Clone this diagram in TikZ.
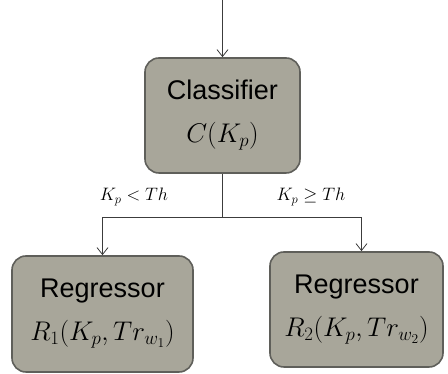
\RequirePackage{fix-cm}
\documentclass[tikz,border=0pt]{standalone}
\usepackage{amssymb}
\usepackage{fontspec}
\setmainfont{Liberation Sans}
\usetikzlibrary{arrows.meta,calc}
\definecolor{boxfill}{RGB}{168,166,154}
\definecolor{boxdraw}{RGB}{95,95,90}
\definecolor{linecol}{RGB}{60,60,60}
\newcommand{\mline}[1]{{\fontsize{27}{43}\selectfont $#1$}}
\tikzset{
  block/.style={draw=boxdraw, line width=1.6pt, fill=boxfill, rounded corners=14pt,
    align=center, inner sep=0pt, font=\fontsize{27}{43}\selectfont},
  conn/.style={draw=linecol, line width=0.8pt, -{Straight Barb[length=7pt,width=11pt,line width=0.8pt]}},
  lbl/.style={font=\fontsize{18}{20}\selectfont, inner sep=0pt}
}
\begin{document}
\begin{tikzpicture}[x=1pt,y=1pt]
\useasboundingbox (0,0) rectangle (448,374);
\node[block, minimum width=155pt, minimum height=115pt] (cls) at (222.5,258.5)
  {Classifier\\\mline{C\bigl(K_p\bigr)}};
\node[block, minimum width=181pt, minimum height=116pt] (r1) at (102.5,60)
  {Regressor\\\mline{R_1(K_p,Tr_{w_1})}};
\node[block, minimum width=173pt, minimum height=115pt] (r2) at (356.5,64.5)
  {Regressor\\\mline{R_2\bigl(K_p,Tr_{w_2}\bigr)}};
\coordinate (top) at (222.5,374);
\coordinate (junc) at (222.5,157);
\draw[conn] (top) -- (cls.north);
\draw[draw=linecol, line width=0.8pt] (cls.south) -- (junc);
\draw[conn] (junc) -| (r1.north);
\draw[conn] (junc) -| ([xshift=5pt]r2.north);
\node[lbl] (l1) at (134,177) {$K_p < Th$};
\node[lbl] (l2) at (311,177) {$K_p \geq Th$};
\end{tikzpicture}
\end{document}
